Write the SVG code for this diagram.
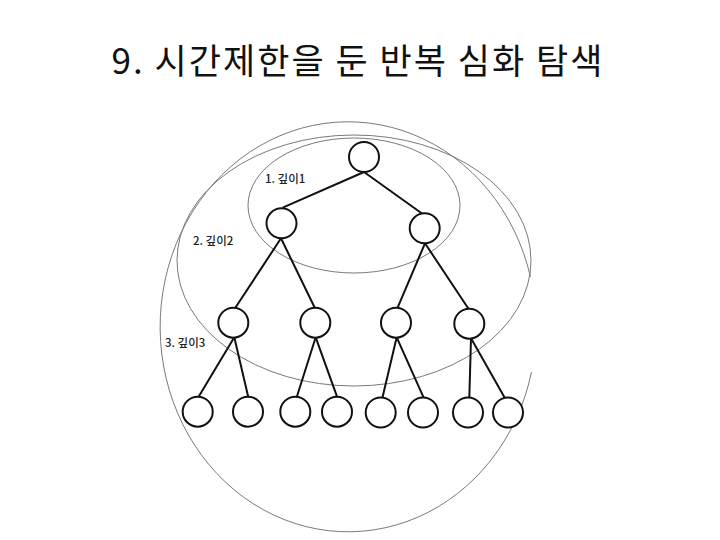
<svg xmlns="http://www.w3.org/2000/svg" width="720" height="540" viewBox="0 0 720 540">
<style>
.title{font-family:"Noto Sans CJK KR","Noto Sans",sans-serif;font-size:35px;letter-spacing:2px;fill:#111}
.lbl{font-family:"Noto Sans CJK KR","Noto Sans",sans-serif;font-size:11.5px;font-weight:500;fill:#222}
.ring{fill:none;stroke:#7a7a7a;stroke-width:1}
.node circle{fill:#fff;stroke:#111;stroke-width:2}
#edges line{stroke:#111;stroke-width:2;stroke-linecap:round}
</style>
<rect width="720" height="540" fill="#fff"/>
<text class="title" x="358" y="74" text-anchor="middle">9. 시간제한을 둔 반복 심화 탐색</text>

<g id="depth-rings">
<ellipse class="ring" cx="354" cy="205.5" rx="106" ry="67.5"/>
<ellipse class="ring" cx="354" cy="260.5" rx="177" ry="125.5"/>
<path class="ring" d="M 530.5 277 A 188 205 0 1 0 531.5 372"/>
</g>

<g id="labels">
<text class="lbl" x="265" y="183">1. 깊이1</text>
<text class="lbl" x="193" y="245">2. 깊이2</text>
<text class="lbl" x="165" y="347">3. 깊이3</text>
</g>

<g id="edges">
<line x1="364" y1="172" x2="283.3" y2="207.3"/>
<line x1="364" y1="172" x2="422.7" y2="214"/>
<line x1="281" y1="238.3" x2="235" y2="308.3"/>
<line x1="281" y1="238.3" x2="315" y2="308.3"/>
<line x1="425" y1="243.3" x2="397.3" y2="308.3"/>
<line x1="425" y1="243.3" x2="469.3" y2="310"/>
<line x1="234.3" y1="337.3" x2="198.3" y2="397.3"/>
<line x1="234.3" y1="337.3" x2="248.3" y2="397.3"/>
<line x1="315.7" y1="337.3" x2="296.7" y2="397.3"/>
<line x1="315.7" y1="337.3" x2="337.3" y2="397.3"/>
<line x1="396.7" y1="337.3" x2="382.3" y2="398.3"/>
<line x1="396.7" y1="337.3" x2="424" y2="398.3"/>
<line x1="471" y1="338.3" x2="469.3" y2="398.3"/>
<line x1="471" y1="338.3" x2="505" y2="398.3"/>
</g>

<g id="n-root" class="node"><circle cx="364" cy="157" r="15"/></g>
<g id="n-1a" class="node"><circle cx="281.5" cy="223.3" r="15"/></g>
<g id="n-1b" class="node"><circle cx="424.7" cy="228.3" r="15"/></g>
<g id="n-2a" class="node"><circle cx="233.3" cy="322.7" r="15"/></g>
<g id="n-2b" class="node"><circle cx="315.3" cy="322.7" r="15"/></g>
<g id="n-2c" class="node"><circle cx="396" cy="322.7" r="15"/></g>
<g id="n-2d" class="node"><circle cx="469.3" cy="323.7" r="15"/></g>
<g id="n-3a" class="node"><circle cx="197.7" cy="411.7" r="15"/></g>
<g id="n-3b" class="node"><circle cx="248" cy="411.7" r="15"/></g>
<g id="n-3c" class="node"><circle cx="295.3" cy="411.7" r="15"/></g>
<g id="n-3d" class="node"><circle cx="337" cy="411.7" r="15"/></g>
<g id="n-3e" class="node"><circle cx="380.7" cy="412.5" r="15"/></g>
<g id="n-3f" class="node"><circle cx="423" cy="412.5" r="15"/></g>
<g id="n-3g" class="node"><circle cx="468" cy="412.5" r="15"/></g>
<g id="n-3h" class="node"><circle cx="508" cy="412.5" r="15"/></g>
</svg>
